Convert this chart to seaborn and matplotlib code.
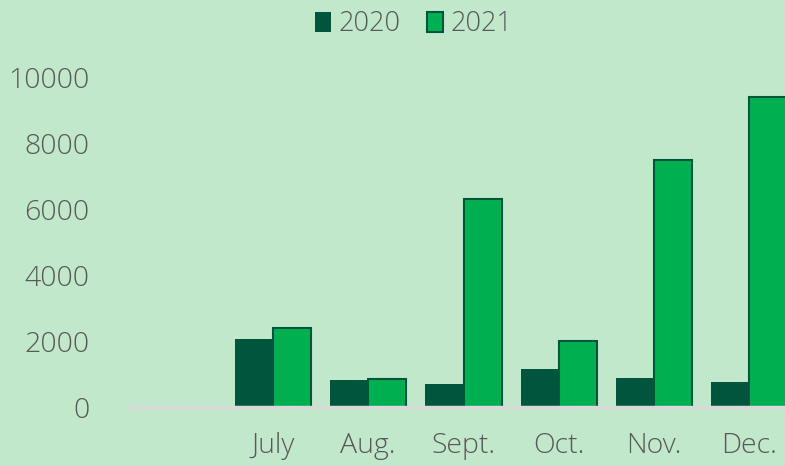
import pandas as pd
import matplotlib.pyplot as plt
import seaborn as sns
from matplotlib.patches import Patch

months = ['', 'July', 'Aug.', 'Sept.', 'Oct.', 'Nov.', 'Dec.']
sales_2020 = [None, 2060, 820, 700, 1150, 880, 760]
sales_2021 = [None, 2390, 840, 6300, 2000, 7480, 9390]

bg = '#c2e8cb'
dark = '#00553d'
bright = '#00b050'
text_col = '#595959'

df = pd.DataFrame({
    'Month': months * 2,
    'Value': sales_2020 + sales_2021,
    'Year': ['2020'] * len(months) + ['2021'] * len(months),
}).dropna()

sns.set_style('white')
plt.rcParams['font.family'] = ['Open Sans', 'DejaVu Sans']
plt.rcParams['font.weight'] = 'light'

fig = plt.figure(figsize=(7.85, 4.66), dpi=100, facecolor=bg)
ax = fig.add_axes([130 / 785, 1 - 407 / 466, 7 * 95.3 / 785, 330 / 466])
ax.set_facecolor(bg)

sns.barplot(data=df, x='Month', y='Value', hue='Year', order=months,
            hue_order=['2020', '2021'], palette=[dark, bright],
            width=0.8, saturation=1, ax=ax, legend=False)

for bar in ax.containers[0]:
    bar.set_linewidth(0)
for bar in ax.containers[1]:
    bar.set_edgecolor(dark)
    bar.set_linewidth(1.5)

ax.set_xlim(-0.5, 6.5)
ax.set_ylim(0, 10000)
ax.set_yticks([0, 2000, 4000, 6000, 8000, 10000])
ax.set_xlabel('')
ax.set_ylabel('')
for s in ['top', 'right', 'left']:
    ax.spines[s].set_visible(False)
ax.spines['bottom'].set_color('#d9d9d9')
ax.spines['bottom'].set_linewidth(2.5)
ax.tick_params(axis='both', length=0, labelsize=20.5, colors=text_col)
ax.tick_params(axis='y', pad=29)
ax.tick_params(axis='x', pad=18)

handles = [Patch(facecolor=dark, edgecolor=dark, linewidth=0),
           Patch(facecolor=bright, edgecolor=dark, linewidth=1.5)]
fig.legend(handles, ['2020', '2021'], loc='upper center',
           bbox_to_anchor=(0.527, 1.03), ncol=2, frameon=False,
           fontsize=19.5, labelcolor=text_col, handlelength=0.6,
           handleheight=0.8, handletextpad=0.25, columnspacing=1.0)

fig.savefig('out.png', dpi=100, facecolor=bg)
